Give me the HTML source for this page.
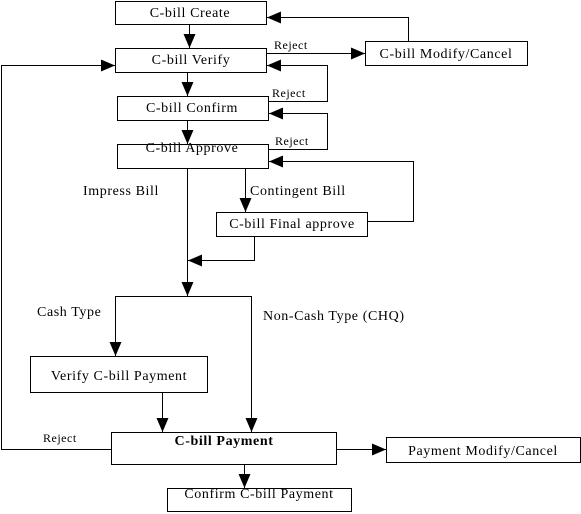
<!DOCTYPE html>
<html><head><meta charset="utf-8"><style>
html,body{margin:0;padding:0;background:#fff;}
svg{display:block;font-family:"Liberation Serif",serif;}
</style></head><body>
<svg width="581" height="514" viewBox="0 0 581 514" xmlns="http://www.w3.org/2000/svg">
<defs>
<marker id="a" markerWidth="14" markerHeight="12" refX="14" refY="6" orient="auto" markerUnits="userSpaceOnUse">
<path d="M0,0 L14,6 L0,12 z" fill="#000"/></marker>
</defs>
<g fill="#fff" stroke="#000" stroke-width="1">
<rect x="115.5" y="1.5" width="151" height="23"/>
<rect x="115.5" y="48.5" width="151" height="24"/>
<rect x="365.5" y="41.5" width="162" height="24"/>
<rect x="117.5" y="96.5" width="151" height="24"/>
<rect x="117.5" y="144.5" width="151" height="24"/>
<rect x="216.5" y="212.5" width="151" height="24"/>
<rect x="30.5" y="356.5" width="177" height="36"/>
<rect x="111.5" y="432.5" width="225" height="32"/>
<rect x="386.5" y="437.5" width="194" height="25"/>
<rect x="167.5" y="488.5" width="184" height="23"/>
</g>
<g stroke="#000" stroke-width="1" fill="none">
<line x1="189.5" y1="25" x2="189.5" y2="48" marker-end="url(#a)"/>
<line x1="187.5" y1="73" x2="187.5" y2="96" marker-end="url(#a)"/>
<line x1="266" y1="53.5" x2="365" y2="53.5" marker-end="url(#a)"/>
<polyline points="408.5,41 408.5,17.5 267,17.5" marker-end="url(#a)"/>
<polyline points="269,101.5 327.5,101.5 327.5,65.5 267,65.5" marker-end="url(#a)"/>
<polyline points="269,149.5 327.5,149.5 327.5,113.5 269,113.5" marker-end="url(#a)"/>
<polyline points="368,221.5 413.5,221.5 413.5,161.5 269,161.5" marker-end="url(#a)"/>
<polyline points="254.5,237 254.5,260.5 188,260.5" marker-end="url(#a)"/>
<line x1="245.5" y1="169" x2="245.5" y2="212" marker-end="url(#a)"/>
<line x1="187.5" y1="169" x2="187.5" y2="296" marker-end="url(#a)"/>
<line x1="115" y1="296.5" x2="251" y2="296.5"/>
<line x1="115.5" y1="296" x2="115.5" y2="356" marker-end="url(#a)"/>
<line x1="251.5" y1="296" x2="251.5" y2="432" marker-end="url(#a)"/>
<line x1="162.5" y1="393" x2="162.5" y2="432" marker-end="url(#a)"/>
<polyline points="111,449.5 1.5,449.5 1.5,65.5 115,65.5" marker-end="url(#a)"/>
<line x1="337" y1="449.5" x2="386" y2="449.5" marker-end="url(#a)"/>
<line x1="244.5" y1="465" x2="244.5" y2="488" marker-end="url(#a)"/>
<line x1="187.5" y1="120" x2="187.5" y2="144" marker-end="url(#a)"/>
</g>
<g font-size="14" fill="#000" text-anchor="middle" letter-spacing="0.6">
<text x="190" y="17">C-bill Create</text>
<text x="191" y="64">C-bill Verify</text>
<text x="446" y="58">C-bill Modify/Cancel</text>
<text x="192" y="112">C-bill Confirm</text>
<text x="192" y="152">C-bill Approve</text>
<text x="292" y="228">C-bill Final approve</text>
<text x="119" y="380">Verify C-bill Payment</text>
<text x="224" y="445" font-weight="bold">C-bill Payment</text>
<text x="483" y="455">Payment Modify/Cancel</text>
<text x="259" y="498">Confirm C-bill Payment</text>
</g>
<g font-size="14" fill="#000" letter-spacing="0.6">
<text x="83" y="195">Impress Bill</text>
<text x="250" y="195">Contingent Bill</text>
<text x="37" y="316">Cash Type</text>
<text x="263" y="320">Non-Cash Type (CHQ)</text>
</g>
<g font-size="12" fill="#000" letter-spacing="0.5">
<text x="274" y="49">Reject</text>
<text x="272" y="97">Reject</text>
<text x="275" y="145">Reject</text>
<text x="43" y="442">Reject</text>
</g>
</svg>
</body></html>
